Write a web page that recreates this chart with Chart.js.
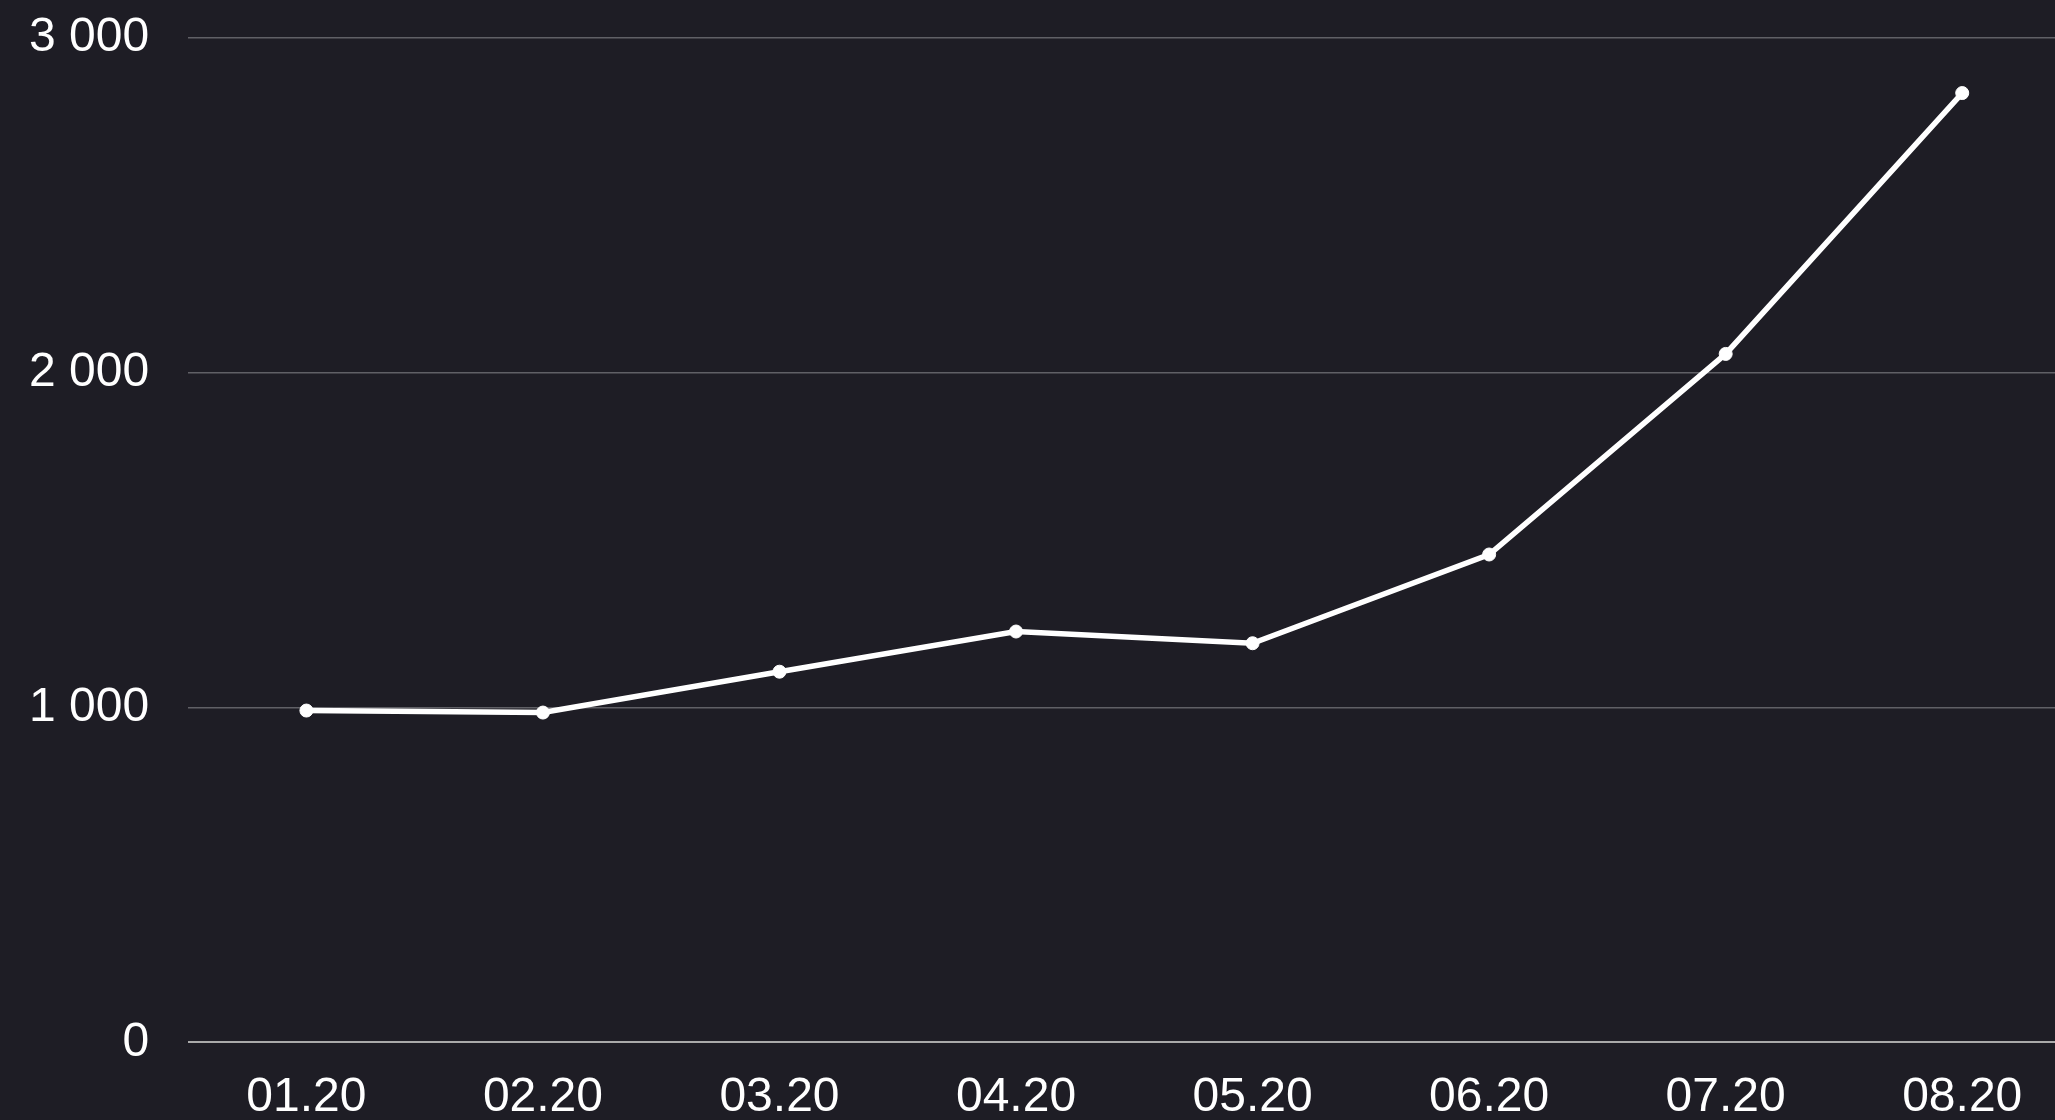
<!DOCTYPE html>
<html>
<head>
<meta charset="utf-8">
<script src="https://cdn.jsdelivr.net/npm/chart.js@4"></script>
<style>
  html, body { margin: 0; padding: 0; background: #1e1d25; overflow: hidden; }
  #wrap { width: 2130px; height: 1184px; margin-left: -42px; margin-top: -30px; }
</style>
</head>
<body>
<div id="wrap"><canvas id="lineChart"></canvas></div>
<script>
// --- DATA ---
const months = ['01.20', '02.20', '03.20', '04.20', '05.20', '06.20', '07.20', '08.20'];
const values = [991, 985, 1107, 1227, 1192, 1457, 2056, 2835];
const yTicks = [0, 1000, 2000, 3000];

// thousands with a space: 3000 -> "3 000"
function fmt(v) {
  return String(v).replace(/\B(?=(\d{3})+(?!\d))/g, ' ');
}

Chart.defaults.font.family = '"Liberation Sans", Arial, sans-serif';
Chart.defaults.color = '#ffffff';

const ctx = document.getElementById('lineChart');
new Chart(ctx, {
  type: 'line',
  data: {
    labels: months,
    datasets: [{
      data: values,
      borderColor: '#ffffff',
      backgroundColor: '#ffffff',
      borderWidth: 5.5,
      tension: 0,
      pointRadius: 6.5,
      pointBorderWidth: 1,
      pointBackgroundColor: '#ffffff',
      pointBorderColor: '#ffffff'
    }]
  },
  options: {
    responsive: true,
    maintainAspectRatio: false,
    animation: false,
    layout: { padding: { left: 32, top: 10, right: 0, bottom: 0 } },
    plugins: {
      legend: { display: false },
      tooltip: { enabled: false }
    },
    scales: {
      x: {
        offset: true,
        grid: { display: false, drawTicks: false },
        border: { display: false },
        ticks: { font: { size: 48 }, padding: 27, color: '#ffffff', maxRotation: 0 }
      },
      y: {
        min: 0,
        max: 3000,
        afterBuildTicks: axis => { axis.ticks = yTicks.map(v => ({ value: v })); },
        grid: {
          drawTicks: false,
          color: c => (c.tick && c.tick.value === 0) ? '#aaaaaa' : '#606066',
          lineWidth: c => (c.tick && c.tick.value === 0) ? 2 : 1.5
        },
        border: { display: false },
        ticks: {
          font: { size: 48 },
          padding: 39,
          color: '#ffffff',
          callback: v => fmt(v)
        }
      }
    }
  }
});
</script>
</body>
</html>
